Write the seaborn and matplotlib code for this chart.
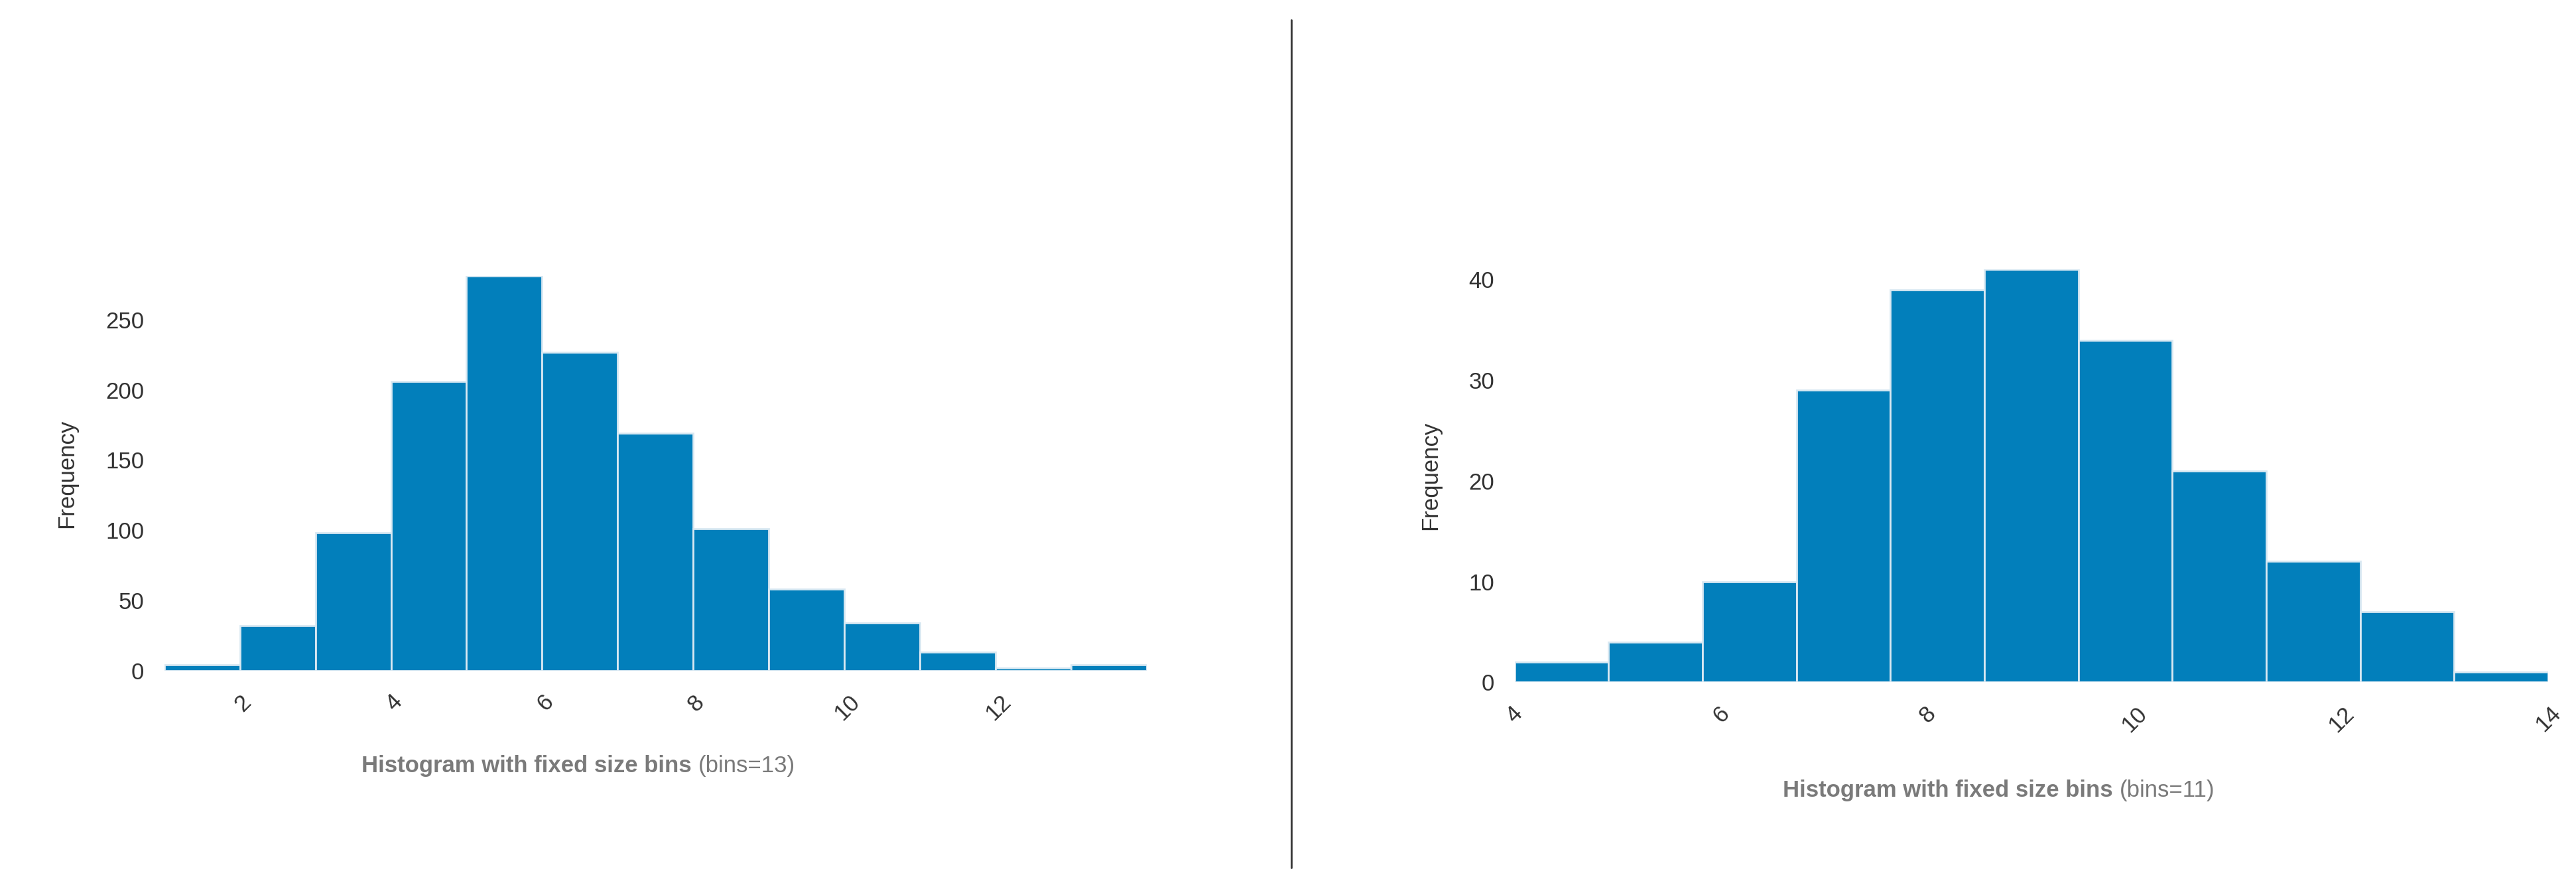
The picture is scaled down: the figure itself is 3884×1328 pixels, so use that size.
import matplotlib
matplotlib.use("Agg")
import matplotlib.pyplot as plt
import seaborn as sns
import numpy as np

left_edges = [0.96 + i for i in range(14)]
left_counts = [4, 32, 98, 206, 281, 227, 169, 101, 58, 34, 13, 2, 4]
right_edges = [4 + i * 10 / 11 for i in range(12)]
right_counts = [2, 4, 10, 29, 39, 41, 34, 21, 12, 7, 1]
left_yticks = [0, 50, 100, 150, 200, 250]
left_xticks = [2, 4, 6, 8, 10, 12]
right_yticks = [0, 10, 20, 30, 40]
right_xticks = [4, 6, 8, 10, 12, 14]

sns.set_style("white")
plt.rcParams['font.family'] = ['Liberation Sans', 'DejaVu Sans']
color = "#027FBB"

fig = plt.figure(figsize=(38.84, 13.28), dpi=100)
W, H = 1568, 536

def make(ax, edges, counts, xticks, yticks, bins_n, tx, ty):
    centers = [(edges[i] + edges[i + 1]) / 2 for i in range(len(counts))]
    sns.histplot(x=centers, weights=counts, bins=edges, ax=ax, color=color,
                 alpha=1, edgecolor="#d8e8f2", linewidth=2)
    ax.set_xlim(edges[0], edges[-1])
    ax.set_ylim(0, max(counts))
    ax.set_xticks(xticks)
    ax.set_yticks(yticks)
    ax.tick_params(axis='both', labelsize=25, colors="#333333", length=0, pad=22)
    for lab in ax.get_xticklabels():
        lab.set_rotation(45)
    ax.set_ylabel("Frequency", fontsize=25, color="#333333", labelpad=30)
    ax.set_xlabel("")
    sns.despine(ax=ax, left=True, bottom=True)
    t1 = fig.text(tx, ty, "Histogram with fixed size bins ", fontsize=25, fontweight="bold",
                  color="#7a7a7a", ha="right", va="center")
    fig.text(tx, ty, f"(bins={bins_n})", fontsize=25, color="#7a7a7a", ha="left", va="center")

ax1 = fig.add_axes([100 / W, 1 - 408 / H, 598 / W, 240 / H])
make(ax1, left_edges, left_counts, left_xticks, left_yticks, 13, 425 / W, 1 - 466 / H)
ax2 = fig.add_axes([922 / W, 1 - 415 / H, 629 / W, 251 / H])
make(ax2, right_edges, right_counts, right_xticks, right_yticks, 11, 1290 / W, 1 - 481 / H)

fig.add_artist(plt.Line2D([786 / W, 786 / W], [1 - 12 / H, 1 - 528 / H], color="#333333", linewidth=2))
fig.savefig("out.png", dpi=100)
